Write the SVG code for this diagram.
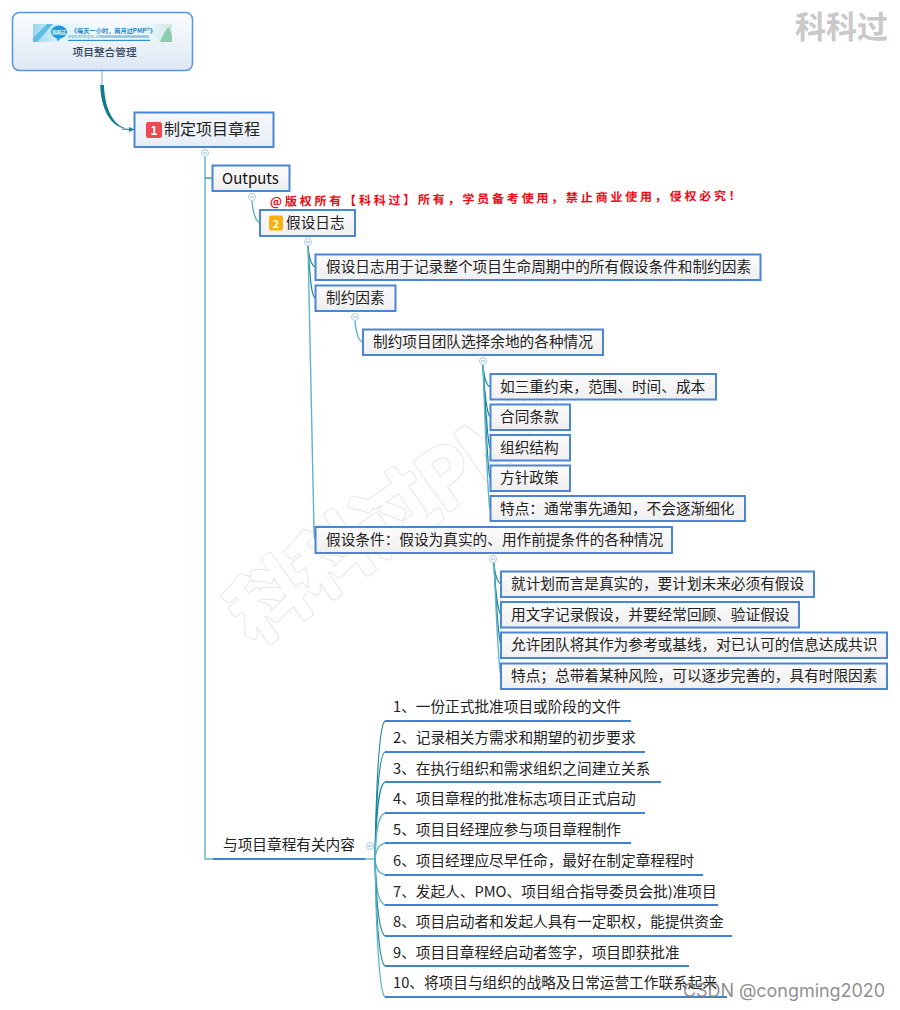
<svg xmlns="http://www.w3.org/2000/svg" width="900" height="1010" viewBox="0 0 900 1010">
<defs>
<linearGradient id="rootG" x1="0" y1="0" x2="0" y2="1"><stop offset="0" stop-color="#fbfdff"/><stop offset="1" stop-color="#dde8f3"/></linearGradient>
<linearGradient id="mainG" x1="0" y1="0" x2="0" y2="1"><stop offset="0" stop-color="#f7f9fc"/><stop offset="1" stop-color="#e6edf5"/></linearGradient>
<linearGradient id="nodeG" x1="0" y1="0" x2="0" y2="1"><stop offset="0" stop-color="#fbfbfb"/><stop offset="1" stop-color="#efefef"/></linearGradient>
<linearGradient id="banG" x1="0" y1="0" x2="1" y2="0"><stop offset="0" stop-color="#9ad6ee"/><stop offset="0.2" stop-color="#dff3fb"/><stop offset="0.5" stop-color="#f4fbfe"/><stop offset="0.85" stop-color="#e6f5fb"/><stop offset="1" stop-color="#cfe9e0"/></linearGradient>
<marker id="arr" markerWidth="6" markerHeight="6" refX="5" refY="3" orient="auto" markerUnits="userSpaceOnUse"><path d="M0,0.5 L5.5,3 L0,5.5 Z" fill="#1c8198"/></marker>
</defs>
<style>
text{font-family:"Noto Sans CJK SC","Microsoft YaHei",sans-serif;fill:#222;font-size:14.67px}
.n{fill:url(#nodeG);stroke:#4a86d4;stroke-width:2}
.u{stroke:#3f82d6;stroke-width:2;fill:none}
.c{fill:none;stroke:#5fb4c6;stroke-width:1.4}
.d{fill:none;stroke:#17869c;stroke-width:1.2}
.k circle{fill:#fff;stroke:#a9cbe6;stroke-width:1}
.k path{stroke:#8db4d6;stroke-width:1;fill:none}
.wm{font-size:76px;font-weight:400;letter-spacing:1px;stroke-linejoin:round;stroke-linecap:round}
</style>

<g id="watermark" transform="translate(254,645) rotate(-35)">
<text class="wm" style="fill:#fff;stroke:#e6e6e6;stroke-width:8">科科过PMP</text>
<text class="wm" style="fill:#fff;stroke:#fff;stroke-width:6">科科过PMP</text>
</g>
<text id="wm-top" x="795" y="38" style="font-size:31px;font-weight:700;fill:#c9c9c9">科科过</text>

<g id="connectors">
<path d="M102,70 V86" stroke="#a9c6ea" stroke-width="1.5" fill="none"/>
<path d="M100.200,85 L104,85 C104.500,106 112,126 128,129 C110,128 101,108 100.200,85 Z" fill="#0f7a90"/>
<path d="M122,129 C126,129.500 130,129.500 134,129.500" stroke="#1c8198" stroke-width="1" fill="none" marker-end="url(#arr)"/>
<path class="c" d="M205,157 V859 H213"/>
<path class="d" d="M205,178 H212"/>
<path class="c" d="M252,201 C253,212 255,221 260,223"/>
<path class="d" d="M308,246 C309,258 311,265 315,267"/>
<path class="d" d="M308,246 C310,275 311,295 315,298"/>
<path class="c" d="M308,246 L314,530 L315,540"/>
<path class="c" d="M355,321 C356,332 358,341 363,342"/>
<path class="d" d="M483,365 C484,377 486,385 490,387"/>
<path class="d" d="M483,365 C484,390 487,414 490,417"/>
<path class="d" d="M483,365 C485,400 488,444 490,448"/>
<path class="d" d="M483,365 C485,410 488,474 490,478"/>
<path class="c" d="M483,365 C485,420 488,505 490,509"/>
<path class="d" d="M494,563 C495,575 497,582 501,584"/>
<path class="d" d="M494,563 C495,590 498,612 501,615"/>
<path class="d" d="M494,563 C496,600 499,641 501,645"/>
<path class="c" d="M494,563 C496,610 499,672 501,676"/>
<path class="c" d="M365,859 H375"/>
<path class="d" d="M375,859 C376,800 378,725 385,721"/>
<path class="d" d="M375,859 C376,810 378,755 385,752"/>
<path class="d" d="M375,859 C376,820 378,785 385,782"/>
<path class="c" d="M375,859 C376,835 377,816 385,813"/>
<path class="c" d="M375,859 C376,850 378,845 385,843"/>
<path class="c" d="M375,859 C376,868 378,873 385,875"/>
<path class="c" d="M375,859 C376,885 377,902 385,905"/>
<path class="d" d="M375,859 C376,895 378,932 385,936"/>
<path class="d" d="M375,859 C376,905 378,962 385,966"/>
<path class="c" d="M375,859 C376,915 378,992 385,997"/>
<path class="u" d="M213,859 H365"/>
</g>

<g id="root"><rect x="12.500" y="12.500" width="180" height="58" rx="7" fill="url(#rootG)" stroke="#5a94de" stroke-width="1.500"/>
<rect x="33" y="24" width="139" height="18" fill="url(#banG)"/>
<path d="M33,38 L47,24 H53 L37,42 H33 Z" fill="#5dbde2"/>
<path d="M160,42 C163,35 165,30 169,27 L172,36 V42 Z" fill="#8ccbae"/>
<ellipse cx="59" cy="32" rx="8" ry="6.500" fill="#1f9ad6"/><path d="M56,37 L58,41.500 L61,37 Z" fill="#1f9ad6"/>
<text x="59" y="34" text-anchor="middle" style="font-size:4.500px;font-weight:700;fill:#fff">科科过</text>
<rect x="68" y="39.800" width="82" height="1.200" fill="#2a8fd0"/>
<text x="71" y="32.500" style="font-size:6.200px;font-weight:700;fill:#2383c4">《每天一小时，两月过PMP®》</text>
<text x="68" y="37.800" style="font-size:4px;fill:#4aa3d6">www.kekeguo.net</text>
<rect x="100" y="35.300" width="49" height="2.500" fill="#8cc4e6"/>
<text x="72.500" y="55.500" style="font-size:10.700px;fill:#33465e;font-weight:500">项目整合管理</text></g>

<g id="n1"><rect x="134.500" y="112.500" width="139" height="34.500" fill="url(#mainG)" stroke="#4a86d4" stroke-width="2"/>
<rect x="146" y="122" width="16" height="16" rx="2.500" fill="#ea4a50"/><text x="154" y="135" text-anchor="middle" style="font-size:12px;font-weight:700;fill:#fff">1</text>
<text x="164" y="135" style="font-size:16px">制定项目章程</text></g>
<g id="n2"><rect class="n" x="212.500" y="165.500" width="77" height="25.500"/><text x="222" y="184" style="font-size:15px;fill:#111">Outputs</text></g>
<text id="notice" transform="translate(270,206) rotate(-0.75)" style="font-size:12px;font-weight:700;fill:#ee0a14;letter-spacing:2.800px">@版权所有【科科过】所有，学员备考使用，禁止商业使用，侵权必究！</text>
<g id="n3"><rect class="n" x="260" y="210" width="95" height="26"/><rect x="269" y="215.500" width="14" height="15" rx="2.500" fill="#fbb012"/><text x="276" y="227.500" text-anchor="middle" style="font-size:11px;font-weight:700;fill:#fff">2</text><text x="286" y="228">假设日志</text></g>
<g id="n4"><rect class="n" x="315.500" y="254.500" width="445" height="25.500"/><text x="326" y="272">假设日志用于记录整个项目生命周期中的所有假设条件和制约因素</text></g>
<g id="n5"><rect class="n" x="315.500" y="285.500" width="80" height="25.500"/><text x="326" y="303">制约因素</text></g>
<g id="n6"><rect class="n" x="363" y="329.500" width="240" height="25.500"/><text x="373" y="347">制约项目团队选择余地的各种情况</text></g>
<g id="n7"><rect class="n" x="490.500" y="374" width="225.500" height="25.500"/><text x="500" y="392">如三重约束，范围、时间、成本</text></g>
<g id="n8"><rect class="n" x="490.500" y="404.500" width="79.500" height="25.500"/><text x="500" y="422">合同条款</text></g>
<g id="n9"><rect class="n" x="490.500" y="435" width="79.500" height="25.500"/><text x="500" y="453">组织结构</text></g>
<g id="n10"><rect class="n" x="490.500" y="465.500" width="79.500" height="25.500"/><text x="500" y="483">方针政策</text></g>
<g id="n11"><rect class="n" x="490.500" y="496" width="254.500" height="25"/><text x="500" y="514">特点：通常事先通知，不会逐渐细化</text></g>
<g id="n12"><rect class="n" x="315.500" y="527" width="356.500" height="26"/><text x="326" y="545">假设条件：假设为真实的、用作前提条件的各种情况</text></g>
<g id="n13"><rect class="n" x="501" y="571.500" width="313" height="25.500"/><text x="511" y="589">就计划而言是真实的，要计划未来必须有假设</text></g>
<g id="n14"><rect class="n" x="501" y="602" width="298" height="25.500"/><text x="511" y="620">用文字记录假设，并要经常回顾、验证假设</text></g>
<g id="n15"><rect class="n" x="501" y="632.500" width="386" height="25.500"/><text x="511" y="650">允许团队将其作为参考或基线，对已认可的信息达成共识</text></g>
<g id="n16"><rect class="n" x="501" y="663.500" width="386" height="25.500"/><text x="511" y="681">特点；总带着某种风险，可以逐步完善的，具有时限因素</text></g>
<g id="n17"><text x="223" y="850">与项目章程有关内容</text></g>

<g id="l1"><path class="u" d="M385,721 H631"/><text x="393" y="712">1、一份正式批准项目或阶段的文件</text></g>
<g id="l2"><path class="u" d="M385,752 H645"/><text x="393" y="743">2、记录相关方需求和期望的初步要求</text></g>
<g id="l3"><path class="u" d="M385,782 H661"/><text x="393" y="774">3、在执行组织和需求组织之间建立关系</text></g>
<g id="l4"><path class="u" d="M385,813 H645"/><text x="393" y="804">4、项目章程的批准标志项目正式启动</text></g>
<g id="l5"><path class="u" d="M385,843 H631"/><text x="393" y="835">5、项目目经理应参与项目章程制作</text></g>
<g id="l6"><path class="u" d="M385,875 H703"/><text x="393" y="866">6、项目经理应尽早任命，最好在制定章程程时</text></g>
<g id="l7"><path class="u" d="M385,905 H718"/><text x="393" y="897">7、发起人、PMO、项目组合指导委员会批)准项目</text></g>
<g id="l8"><path class="u" d="M385,936 H732"/><text x="393" y="927">8、项目启动者和发起人具有一定职权，能提供资金</text></g>
<g id="l9"><path class="u" d="M385,966 H689"/><text x="393" y="958">9、项目目章程经启动者签字，项目即获批准</text></g>
<g id="l10"><path class="u" d="M385,997 H727"/><text x="393" y="988">10、将项目与组织的战略及日常运营工作联系起来</text></g>

<g class="k" id="toggles">
<g><circle cx="205" cy="153" r="3.500"/><path d="M203,153 H207"/></g>
<g><circle cx="252" cy="197" r="3.500"/><path d="M250,197 H254"/></g>
<g><circle cx="308" cy="242" r="3.500"/><path d="M306,242 H310"/></g>
<g><circle cx="355" cy="317" r="3.500"/><path d="M353,317 H357"/></g>
<g><circle cx="483" cy="361" r="3.500"/><path d="M481,361 H485"/></g>
<g><circle cx="493" cy="559" r="3.500"/><path d="M491,559 H495"/></g>
<g><circle cx="370" cy="846" r="3.500"/><path d="M368,846 H372"/></g>
</g>
<text id="csdn" x="683" y="997" textLength="202" style="font-family:Inter,Roboto,sans-serif;font-size:18px;fill:#7a7a7a;fill-opacity:.85">CSDN @congming2020</text>
</svg>
